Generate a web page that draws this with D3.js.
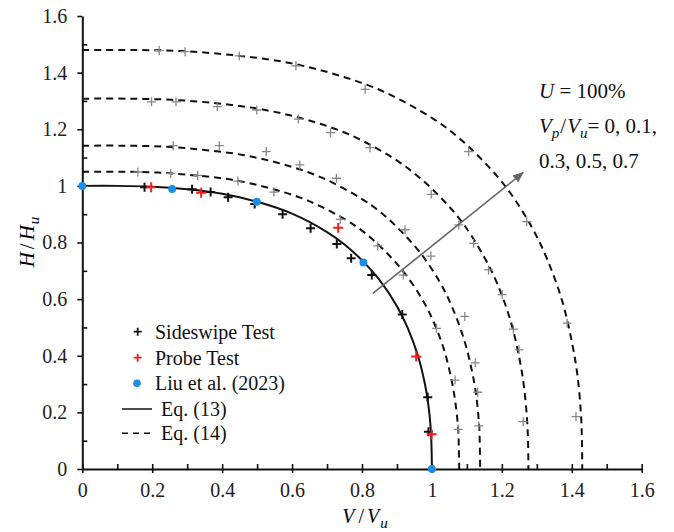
<!DOCTYPE html>
<html>
<head>
<meta charset="utf-8">
<script src="https://cdn.jsdelivr.net/npm/d3@7"></script>
<style>
  body { margin: 0; background: #fff; }
</style>
</head>
<body>
<div id="chart"></div>
<script>
// tick labels
const xTicks = [0, 0.2, 0.4, 0.6, 0.8, 1, 1.2, 1.4, 1.6];
const xTickLabels = ["0", "0.2", "0.4", "0.6", "0.8", "1", "1.2", "1.4", "1.6"];
const yTicks = [0, 0.2, 0.4, 0.6, 0.8, 1, 1.2, 1.4, 1.6];
const yTickLabels = ["0", "0.2", "0.4", "0.6", "0.8", "1", "1.2", "1.4", "1.6"];
const minorTicks = [0.1, 0.3, 0.5, 0.7, 0.9, 1.1, 1.3, 1.5];

// Eq. (13) - solid curve
const eq13V = [0, 0.1, 0.2, 0.3, 0.4, 0.5, 0.6, 0.7, 0.75, 0.8, 0.85, 0.9, 0.93, 0.96, 0.98, 0.99, 0.997, 0.999, 1.0];
const eq13H = [1, 1, 0.997, 0.988, 0.972, 0.944, 0.902, 0.837, 0.793, 0.737, 0.668, 0.575, 0.50, 0.40, 0.30, 0.225, 0.135, 0.07, 0];

// Eq. (14) - dashed curves for Vp/Vu = 0.1, 0.3, 0.5, 0.7
const eq14V1 = [0, 0.108, 0.216, 0.323, 0.431, 0.539, 0.647, 0.755, 0.809, 0.862, 0.916, 0.970, 1.003, 1.035, 1.056, 1.067, 1.075, 1.077, 1.078];
const eq14H1 = [1.05, 1.05, 1.047, 1.037, 1.021, 0.991, 0.947, 0.879, 0.833, 0.774, 0.701, 0.604, 0.525, 0.42, 0.315, 0.236, 0.142, 0.074, 0];
const eq14V2 = [0, 0.114, 0.228, 0.341, 0.455, 0.569, 0.683, 0.797, 0.854, 0.910, 0.967, 1.024, 1.058, 1.092, 1.115, 1.127, 1.135, 1.137, 1.138];
const eq14H2 = [1.142, 1.142, 1.139, 1.128, 1.110, 1.078, 1.030, 0.956, 0.906, 0.842, 0.763, 0.657, 0.571, 0.457, 0.343, 0.257, 0.154, 0.08, 0];
const eq14V3 = [0, 0.128, 0.255, 0.383, 0.510, 0.638, 0.766, 0.893, 0.957, 1.021, 1.085, 1.148, 1.187, 1.225, 1.250, 1.263, 1.272, 1.275, 1.276];
const eq14H3 = [1.308, 1.308, 1.304, 1.292, 1.271, 1.235, 1.180, 1.095, 1.037, 0.964, 0.874, 0.752, 0.654, 0.523, 0.392, 0.294, 0.177, 0.092, 0];
const eq14V4 = [0, 0.143, 0.286, 0.429, 0.572, 0.715, 0.858, 1.001, 1.073, 1.144, 1.216, 1.287, 1.330, 1.373, 1.401, 1.416, 1.426, 1.429, 1.43];
const eq14H4 = [1.48, 1.48, 1.476, 1.462, 1.439, 1.397, 1.335, 1.239, 1.174, 1.091, 0.989, 0.851, 0.74, 0.592, 0.444, 0.333, 0.2, 0.104, 0];

// Sideswipe Test (black)
const swipeV = [0.178, 0.314, 0.367, 0.417, 0.493, 0.573, 0.653, 0.728, 0.769, 0.828, 0.915, 0.988, 0.990];
const swipeH = [0.995, 0.988, 0.978, 0.960, 0.936, 0.900, 0.850, 0.795, 0.744, 0.685, 0.546, 0.253, 0.132];

// Probe Test (red)
const probeV = [0.197, 0.340, 0.732, 0.955, 0.999];
const probeH = [0.995, 0.976, 0.852, 0.397, 0.123];

// Liu et al. (2023)
const liuV = [0, 0.257, 0.499, 0.804, 1.0];
const liuH = [1.0, 0.989, 0.944, 0.729, 0];

// tests with Vp/Vu > 0 (grey)
const greyV1 = [0.159, 0.253, 0.330, 0.445, 0.548, 0.738, 0.845, 0.918, 1.013, 1.066, 1.075];
const greyH1 = [1.049, 1.044, 1.037, 1.017, 0.978, 0.882, 0.788, 0.685, 0.497, 0.314, 0.140];
const greyV2 = [0.260, 0.392, 0.526, 0.622, 0.727, 0.923, 0.997, 1.094, 1.124, 1.131, 1.134];
const greyH2 = [1.142, 1.142, 1.121, 1.074, 1.027, 0.845, 0.752, 0.539, 0.375, 0.271, 0.152];
const greyV3 = [0.198, 0.268, 0.386, 0.499, 0.618, 0.710, 0.823, 0.998, 1.077, 1.119, 1.162, 1.201, 1.233, 1.249, 1.261];
const greyH3 = [1.297, 1.297, 1.280, 1.268, 1.236, 1.188, 1.135, 0.970, 0.862, 0.797, 0.703, 0.616, 0.494, 0.421, 0.167];
const greyV4 = [0.220, 0.294, 0.449, 0.611, 0.809, 1.105, 1.271, 1.387, 1.412];
const greyH4 = [1.478, 1.474, 1.459, 1.424, 1.341, 1.121, 0.874, 0.515, 0.185];

// arrow (Vp/Vu increasing)
const arrowV = [0.831, 1.261];
const arrowH = [0.620, 1.047];

const width = 674, height = 532;
const serif = "Liberation Serif, DejaVu Serif, serif";
const zip = (a, b) => a.map((v, i) => [v, b[i]]);

const svg = d3.select("#chart").append("svg")
    .attr("width", width)
    .attr("height", height)
    .attr("font-family", serif);

const x = d3.scaleLinear().domain([0, 1.6]).range([82.3, 641.7]);
const y = d3.scaleLinear().domain([0, 1.6]).range([469, 16]);

// axes
const xAxis = svg.append("g")
    .attr("transform", `translate(0,${y(0)})`)
    .call(d3.axisBottom(x).tickValues(xTicks)
        .tickFormat((d, i) => xTickLabels[i])
        .tickSizeOuter(0).tickSizeInner(4).tickPadding(10));
xAxis.selectAll(".tick line").attr("y1", -5).attr("y2", 4);

const yAxis = svg.append("g")
    .attr("transform", `translate(${x(0)},0)`)
    .call(d3.axisLeft(y).tickValues(yTicks)
        .tickFormat((d, i) => yTickLabels[i])
        .tickSizeOuter(0).tickSizeInner(5).tickPadding(10));
yAxis.selectAll(".tick line").attr("x1", 0).attr("x2", -5);

// minor ticks (inside)
svg.append("g")
    .attr("transform", `translate(0,${y(0)})`)
    .call(d3.axisTop(x).tickValues(minorTicks).tickFormat("").tickSizeOuter(0).tickSizeInner(5))
    .select(".domain").remove();
svg.append("g")
    .attr("transform", `translate(${x(0)},0)`)
    .call(d3.axisRight(y).tickValues(minorTicks).tickFormat("").tickSizeOuter(0).tickSizeInner(5))
    .select(".domain").remove();

svg.selectAll("g").attr("font-family", serif);
svg.selectAll(".domain").attr("stroke", "#111").attr("stroke-width", 2);
svg.selectAll(".tick line").attr("stroke", "#111").attr("stroke-width", 1.6);
svg.selectAll(".tick text").attr("font-size", 20).attr("fill", "#222").attr("font-family", serif);

// curves
const line = d3.line()
    .x(d => x(d[0]))
    .y(d => y(d[1]))
    .curve(d3.curveCatmullRom.alpha(0.5));

const dashed = [zip(eq14V1, eq14H1), zip(eq14V2, eq14H2), zip(eq14V3, eq14H3), zip(eq14V4, eq14H4)];
svg.append("g").selectAll("path")
    .data(dashed)
    .join("path")
    .attr("d", line)
    .attr("fill", "none")
    .attr("stroke", "#111")
    .attr("stroke-width", 2)
    .attr("stroke-dasharray", "7,5");

svg.append("path")
    .attr("d", line(zip(eq13V, eq13H)))
    .attr("fill", "none")
    .attr("stroke", "#111")
    .attr("stroke-width", 2);

// plus markers
function plus(g, pts, size, color, sw) {
    g.selectAll(null)
        .data(pts)
        .join("path")
        .attr("d", d => {
            const cx = x(d[0]), cy = y(d[1]);
            return `M${cx - size},${cy}H${cx + size}M${cx},${cy - size}V${cy + size}`;
        })
        .attr("stroke", color)
        .attr("stroke-width", sw)
        .attr("fill", "none");
}

const greyPts = [].concat(zip(greyV1, greyH1), zip(greyV2, greyH2), zip(greyV3, greyH3), zip(greyV4, greyH4));
plus(svg.append("g"), greyPts, 4.5, "#888", 1.3);
plus(svg.append("g"), zip(swipeV, swipeH), 4.5, "#111", 2);
plus(svg.append("g"), zip(probeV, probeH), 5, "#f21d1d", 2);

svg.append("g").selectAll("circle")
    .data(zip(liuV, liuH))
    .join("circle")
    .attr("cx", d => x(d[0]))
    .attr("cy", d => y(d[1]))
    .attr("r", 4)
    .attr("fill", "#1b8fe6");

// arrow
svg.append("defs").append("marker")
    .attr("id", "head")
    .attr("viewBox", "0 0 10 10")
    .attr("refX", 9).attr("refY", 5)
    .attr("markerWidth", 7).attr("markerHeight", 7)
    .attr("orient", "auto")
    .append("path")
    .attr("d", "M0,1L10,5L0,9Z")
    .attr("fill", "#666");

svg.append("line")
    .attr("x1", x(arrowV[0])).attr("y1", y(arrowH[0]))
    .attr("x2", x(arrowV[1])).attr("y2", y(arrowH[1]))
    .attr("stroke", "#666")
    .attr("stroke-width", 1.6)
    .attr("marker-end", "url(#head)");

// annotation
const note = svg.append("g").attr("font-size", 21).attr("fill", "#111").attr("font-family", serif);
const t1 = note.append("text").attr("x", 539).attr("y", 98);
t1.append("tspan").attr("font-style", "italic").text("U");
t1.append("tspan").text("  =  100%");
const t2 = note.append("text").attr("x", 539).attr("y", 133);
t2.append("tspan").attr("font-style", "italic").text("V");
t2.append("tspan").attr("font-style", "italic").attr("font-size", 15).attr("dy", 5).text("p");
t2.append("tspan").attr("dy", -5).attr("dx", 1).text("/");
t2.append("tspan").attr("font-style", "italic").attr("dx", 1).text("V");
t2.append("tspan").attr("font-style", "italic").attr("font-size", 15).attr("dy", 5).text("u");
t2.append("tspan").attr("dy", -5).text("= 0, 0.1,");
note.append("text").attr("x", 539).attr("y", 168).text("0.3, 0.5, 0.7");

// axis titles
const xt = svg.append("text")
    .attr("x", 365).attr("y", 523)
    .attr("text-anchor", "middle")
    .attr("font-family", serif)
    .attr("font-size", 20);
xt.append("tspan").attr("font-style", "italic").text("V");
xt.append("tspan").attr("dx", 4).text("/");
xt.append("tspan").attr("dx", 3).attr("font-style", "italic").text("V");
xt.append("tspan").attr("dx", 1).attr("font-style", "italic").attr("font-size", 15).attr("dy", 5).text("u");

const yt = svg.append("text")
    .attr("transform", "translate(34,242) rotate(-90)")
    .attr("text-anchor", "middle")
    .attr("font-family", serif)
    .attr("font-size", 21);
yt.append("tspan").attr("font-style", "italic").text("H");
yt.append("tspan").attr("dx", 3).text("/");
yt.append("tspan").attr("dx", 3).attr("font-style", "italic").text("H");
yt.append("tspan").attr("dx", 1).attr("font-style", "italic").attr("font-size", 15).attr("dy", 5).text("u");

// legend
const legend = svg.append("g").attr("font-size", 20).attr("fill", "#111").attr("font-family", serif);
const rows = [
    { label: "Sideswipe Test", type: "plus", color: "#111", y: 331.7, tx: 155 },
    { label: "Probe Test", type: "plus", color: "#f21d1d", y: 357.7, tx: 155 },
    { label: "Liu et al. (2023)", type: "dot", color: "#1b8fe6", y: 383.3, tx: 155 },
    { label: "Eq. (13)", type: "solid", color: "#111", y: 409, tx: 161 },
    { label: "Eq. (14)", type: "dash", color: "#111", y: 433.3, tx: 161 }
];
rows.forEach(r => {
    if (r.type === "plus") {
        legend.append("path")
            .attr("d", `M${137.7 - 4},${r.y}H${137.7 + 4}M137.7,${r.y - 4}V${r.y + 4}`)
            .attr("stroke", r.color).attr("stroke-width", 1.8);
    } else if (r.type === "dot") {
        legend.append("circle").attr("cx", 137).attr("cy", r.y).attr("r", 3.8).attr("fill", r.color);
    } else {
        legend.append("line")
            .attr("x1", 122).attr("x2", 152).attr("y1", r.y).attr("y2", r.y)
            .attr("stroke", r.color).attr("stroke-width", 1.5)
            .attr("stroke-dasharray", r.type === "dash" ? "6,5" : null);
    }
    legend.append("text").attr("x", r.tx).attr("y", r.y + 7).text(r.label);
});
</script>
</body>
</html>
